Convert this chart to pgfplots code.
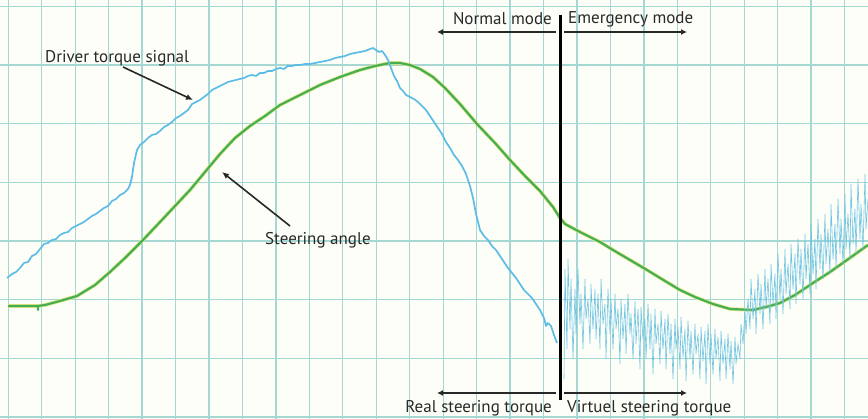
\documentclass[border=0pt]{standalone}
\usepackage{pgfplots}
\pgfplotsset{compat=1.18}
\usepackage{fontspec}
\setmainfont{PT Sans}
\usetikzlibrary{arrows.meta}

\definecolor{gridc}{RGB}{165,216,210}
\definecolor{bgc}{RGB}{254,254,248}
\definecolor{torque}{RGB}{92,188,232}
\definecolor{noisec}{RGB}{112,196,228}
\definecolor{angle}{RGB}{70,175,85}
\definecolor{halo}{RGB}{225,232,130}
\definecolor{txt}{RGB}{40,40,40}

\tikzset{lbl/.style={font=\fontsize{17}{19}\selectfont, text=txt, inner sep=1pt}}

\begin{document}
\begin{tikzpicture}
\begin{axis}[
  width=868pt, height=419pt, scale only axis,
  xmin=0, xmax=868, ymin=0, ymax=419,
  axis line style={draw=none},
  xtick={8.3,41.75,...,846}, ytick={2,60.64,...,414},
  xticklabels={}, yticklabels={},
  tick style={draw=none},
  grid=major,
  major grid style={gridc, line width=1.3pt},
  axis background/.style={fill=bgc},
  clip mode=individual,
]
% steering angle (yellow halo + green line)
\addplot[halo, line width=3.6pt, line join=round] coordinates {
(8,113) (20,113) (38,113) (45,114) (60,118) (77,123) (95,134) (110,147) (125,161) (143,179) (160,197) (175,213) (190,229) (205,247) (220,265) (235,281) (250,293) (265,303) (280,314) (300,324) (320,334) (340,342) (360,349) (375,353) (390,356) (400,356) (410,354) (420,350) (433,342) (445,331) (460,315) (477,295) (495,276) (510,259) (525,243) (540,228) (553,212) (560,201) (565,195) (580,187) (600,177) (613,169) (630,159) (647,149) (665,138) (680,129) (695,122) (713,115) (730,110) (753,109) (770,113) (780,116) (795,124) (813,136) (830,147) (847,159) (868,174)
};
\addplot[angle, line width=2.2pt, line join=round] coordinates {
(8,113) (20,113) (38,113) (38,109) (38,113) (45,114) (60,118) (77,123) (95,134) (110,147) (125,161) (143,179) (160,197) (175,213) (190,229) (205,247) (220,265) (235,281) (250,293) (265,303) (280,314) (300,324) (320,334) (340,342) (360,349) (375,353) (390,356) (400,356) (410,354) (420,350) (433,342) (445,331) (460,315) (477,295) (495,276) (510,259) (525,243) (540,228) (553,212) (560,201) (565,195) (580,187) (600,177) (613,169) (630,159) (647,149) (665,138) (680,129) (695,122) (713,115) (730,110) (753,109) (770,113) (780,116) (795,124) (813,136) (830,147) (847,159) (868,174)
};
% driver torque signal (real)
\addplot[torque, line width=1.7pt, line join=round] coordinates {
(7,141) (12,145) (16,147) (20,151) (24,156) (28,157) (32,163) (36,165) (40,170) (44,175) (48,176) (52,179) (56,180) (60,184) (64,186) (68,187) (72,191) (76,193) (80,195) (84,197) (88,200) (92,203) (96,205) (100,208) (104,211) (108,213) (112,218) (116,220) (120,224) (124,226) (128,230) (130,234) (132,242) (134,256) (137,269) (140,274) (144,277) (148,281) (152,284) (156,285) (160,288) (164,292) (168,294) (172,297) (176,301) (180,303) (184,306) (188,309) (192,315) (196,317) (200,319) (204,322) (208,325) (212,329) (216,331) (220,333) (224,335) (228,337) (232,338) (236,339) (240,340) (244,341) (248,343) (252,344) (256,343) (260,346) (264,346) (268,348) (272,348) (276,350) (280,351) (284,350) (288,353) (292,353) (296,354) (300,354) (305,355) (310,355) (315,356) (320,357) (325,358) (330,359) (335,361) (340,362) (345,363) (350,365) (355,366) (360,367) (365,368) (370,370) (373,371) (376,369) (379,367) (382,368) (385,364) (388,359) (391,351) (394,343) (397,338) (400,331) (403,328) (406,324) (410,322) (414,320) (418,317) (422,313) (426,309) (430,303) (434,297) (438,291) (442,285) (446,277) (450,271) (454,264) (458,259) (462,253) (466,245) (470,233) (473,221) (476,205) (480,189) (484,183) (488,179) (492,173) (496,169) (500,163) (504,157) (508,151) (512,146) (516,141) (520,135) (524,129) (528,125) (532,121) (536,115) (540,109) (544,101) (546,93) (548,96) (551,93) (554,84) (557,76)
};
% virtual steering torque (noisy)
\addplot[noisec, line width=0.6pt] coordinates {
(564,40) (565,150) (567,70) (568,160) (570,90) (571,140) (573,60) (575,130) (576,85) (578,150) (580,95) (581,125) (583,70) (585,140) (586,100) (588,120) (590,75) (591,135) (593,90) (595,130) (596,80) (598,125) (600,70) (601,140) (603,95) (605,115) (606,60) (608,130) (610,85) (611,120) (613,70) (615,125) (616,90) (618,110) (620,55) (621,120) (623,80) (625,115) (626,65) (628,125) (630,85) (631,105) (633,60) (635,118) (636,75) (638,110) (640,50) (641,112) (643,80) (645,100) (646,60) (648,115) (650,70) (651,105) (653,45) (655,110) (656,75) (658,95) (660,55) (661,108) (663,70) (665,100) (666,50) (668,105) (670,65) (671,95) (673,40) (675,100) (676,70) (678,92) (680,50) (681,102) (683,62) (685,90) (686,38) (688,98) (690,60) (691,88) (693,45) (695,95) (696,65) (698,85) (700,40) (701,92) (703,58) (705,88) (706,35) (708,95) (710,55) (711,85) (713,45) (715,90) (716,60) (718,82) (720,38) (721,88) (723,55) (725,80) (726,40) (728,85) (730,50) (731,78) (733,35) (735,82) (736,55) (738,75) (740,60) (741,95) (743,75) (745,110) (746,85) (748,120) (750,90) (751,140) (753,100) (755,130) (756,85) (758,145) (760,105) (761,135) (763,90) (765,150) (766,110) (768,140) (770,95) (771,155) (773,115) (775,145) (776,100) (778,165) (780,120) (781,150) (783,105) (785,170) (786,125) (788,155) (790,110) (791,175) (793,130) (795,165) (796,115) (798,180) (800,135) (801,170) (803,120) (805,185) (806,140) (808,175) (810,125) (811,195) (813,145) (815,180) (816,130) (818,200) (820,150) (821,185) (823,140) (825,205) (826,155) (828,190) (830,145) (831,215) (833,160) (835,195) (836,150) (838,220) (840,165) (841,200) (843,155) (845,225) (846,170) (848,205) (850,160) (851,235) (853,175) (855,210) (856,165) (858,240) (860,180) (861,215) (863,170) (865,245) (866,190) (868,220)
};
% mode switch
\addplot[black, line width=3pt] coordinates {(560,404) (560,19)};

% annotations
\draw[txt, line width=1.6pt, -{Latex[length=6pt,width=6pt]}] (axis cs:556,387) -- (axis cs:437,387);
\draw[txt, line width=1.6pt, -{Latex[length=6pt,width=6pt]}] (axis cs:564,387) -- (axis cs:687,387);
\draw[txt, line width=1.6pt, -{Latex[length=6pt,width=6pt]}] (axis cs:556,26) -- (axis cs:437,26);
\draw[txt, line width=1.6pt, -{Latex[length=6pt,width=6pt]}] (axis cs:564,26) -- (axis cs:687,26);
\draw[txt, line width=1.6pt, -{Latex[length=7pt,width=6pt]}] (axis cs:123,352) -- (axis cs:193,319);
\draw[txt, line width=1.6pt, -{Latex[length=7pt,width=6pt]}] (axis cs:290,193) -- (axis cs:222,247);

\node[lbl, anchor=east] at (axis cs:553,400) {Normal mode};
\node[lbl, anchor=west] at (axis cs:567,400) {Emergency mode};
\node[lbl, anchor=east] at (axis cs:553,11) {Real steering torque};
\node[lbl, anchor=west] at (axis cs:566,11) {Virtuel steering torque};
\node[lbl, anchor=west] at (axis cs:44,361) {Driver torque signal};
\node[lbl, anchor=west] at (axis cs:264,179) {Steering angle};
\end{axis}
\pgfresetboundingbox
\path[use as bounding box] (current axis.south west) rectangle (current axis.north east);
\end{tikzpicture}
\end{document}
